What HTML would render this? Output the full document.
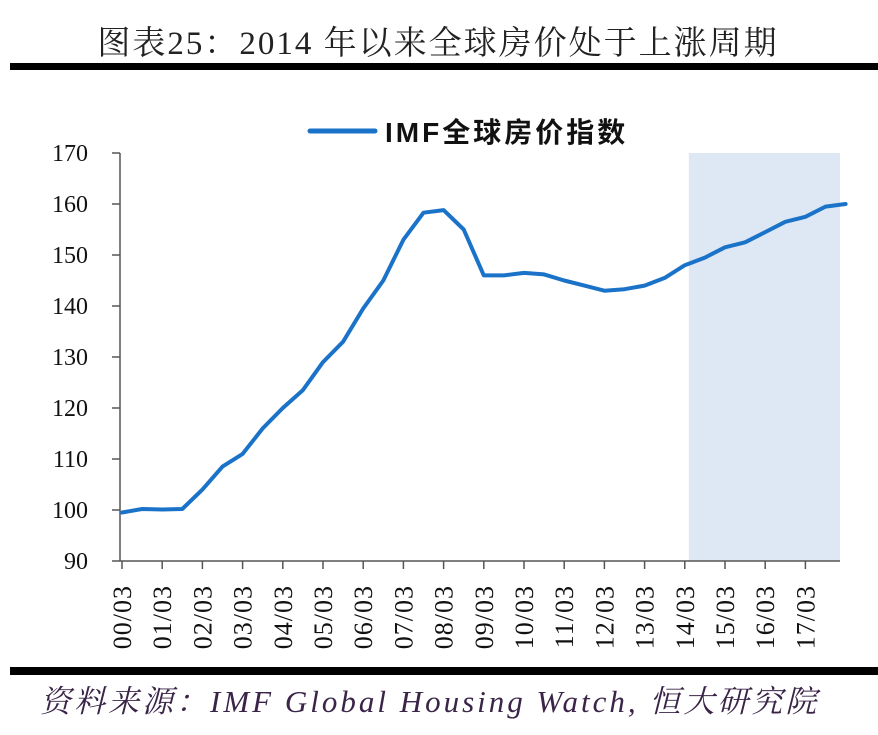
<!DOCTYPE html>
<html><head><meta charset="utf-8"><style>
body{margin:0;background:#fff;width:878px;height:730px;overflow:hidden}
svg text{font-family:"Liberation Serif","Noto Serif CJK SC",serif}
</style></head><body>
<svg width="878" height="730">
<text x="438" y="54" text-anchor="middle" font-size="33" letter-spacing="2" fill="#222">图表25：2014 年以来全球房价处于上涨周期</text>
<rect x="10" y="63" width="868" height="7" fill="#000"/>
<rect x="10" y="667" width="868" height="8" fill="#000"/>
<text x="40" y="712" font-size="31" letter-spacing="3" font-style="italic" fill="#3a2448">资料来源：IMF Global Housing Watch, 恒大研究院</text>
<g id="plot"></g>
</svg>
<script>
const years=["00/03","01/03","02/03","03/03","04/03","05/03","06/03","07/03","08/03","09/03","10/03","11/03","12/03","13/03","14/03","15/03","16/03","17/03"];
const yTicks=[90,100,110,120,130,140,150,160,170];
// semiannual values starting 00/03
const values=[99.5,100.2,100.1,100.2,104,108.5,111,116,120,123.5,129,133,139.5,145,153,158.3,158.8,155,146,146,146.5,146.2,145,144,143,143.3,144,145.5,148,149.5,151.5,152.5,154.5,156.5,157.5,159.5,160];
const shadeStart=14.1;
const x0=122,yearW=40.2,left=120,right=840;
const xs=t=>x0+t*yearW;
const ys=v=>153+(170-v)*5.1;
const g=document.getElementById('plot');
const NS='http://www.w3.org/2000/svg';
function mk(tag,attrs){const e=document.createElementNS(NS,tag);for(const k in attrs)e.setAttribute(k,attrs[k]);g.appendChild(e);return e;}
let sh=mk('rect',{x:xs(shadeStart),y:ys(170),width:right-xs(shadeStart),height:ys(90)-ys(170),fill:'#dde8f4'});


let ya=mk('line',{x1:left,y1:ys(170),x2:left,y2:ys(90),stroke:'#555','stroke-width':1.5});


let xa=mk('line',{x1:left,y1:ys(90),x2:right,y2:ys(90),stroke:'#555','stroke-width':1.5});


yTicks.forEach(v=>{
 mk('line',{x1:112,y1:ys(v),x2:left,y2:ys(v),stroke:'#555','stroke-width':1.5});
 const t=mk('text',{x:88,y:ys(v)+8,'text-anchor':'end','font-size':24,fill:'#111'});
 t.textContent=v;
 
 
});
years.forEach((y,i)=>{
 const x=xs(i);
 mk('line',{x1:x,y1:ys(90),x2:x,y2:ys(90)+8,stroke:'#555','stroke-width':1.5});
 const t=mk('text',{x:0,y:0,'font-size':26,'letter-spacing':1,fill:'#111','text-anchor':'end',transform:`translate(${x+9},585) rotate(-90)`});
 t.textContent=y;
 
 
});
const d=values.map((v,i)=>(i?'L':'M')+xs(i*0.5).toFixed(1)+','+ys(v).toFixed(1)).join(' ');
let p=mk('path',{d:d,fill:'none',stroke:'#1a73c8','stroke-width':4,'stroke-linejoin':'round','stroke-linecap':'round'});


let ll=mk('line',{x1:310,y1:131,x2:375,y2:131,stroke:'#1a73c8','stroke-width':5,'stroke-linecap':'round'});


let lt=mk('text',{x:385,y:142,'font-size':28,'font-weight':'bold','letter-spacing':3,fill:'#111'});
lt.setAttribute('style','font-family:"Liberation Sans","Noto Sans CJK SC",sans-serif');
lt.textContent='IMF全球房价指数';


</script>
</body></html>
